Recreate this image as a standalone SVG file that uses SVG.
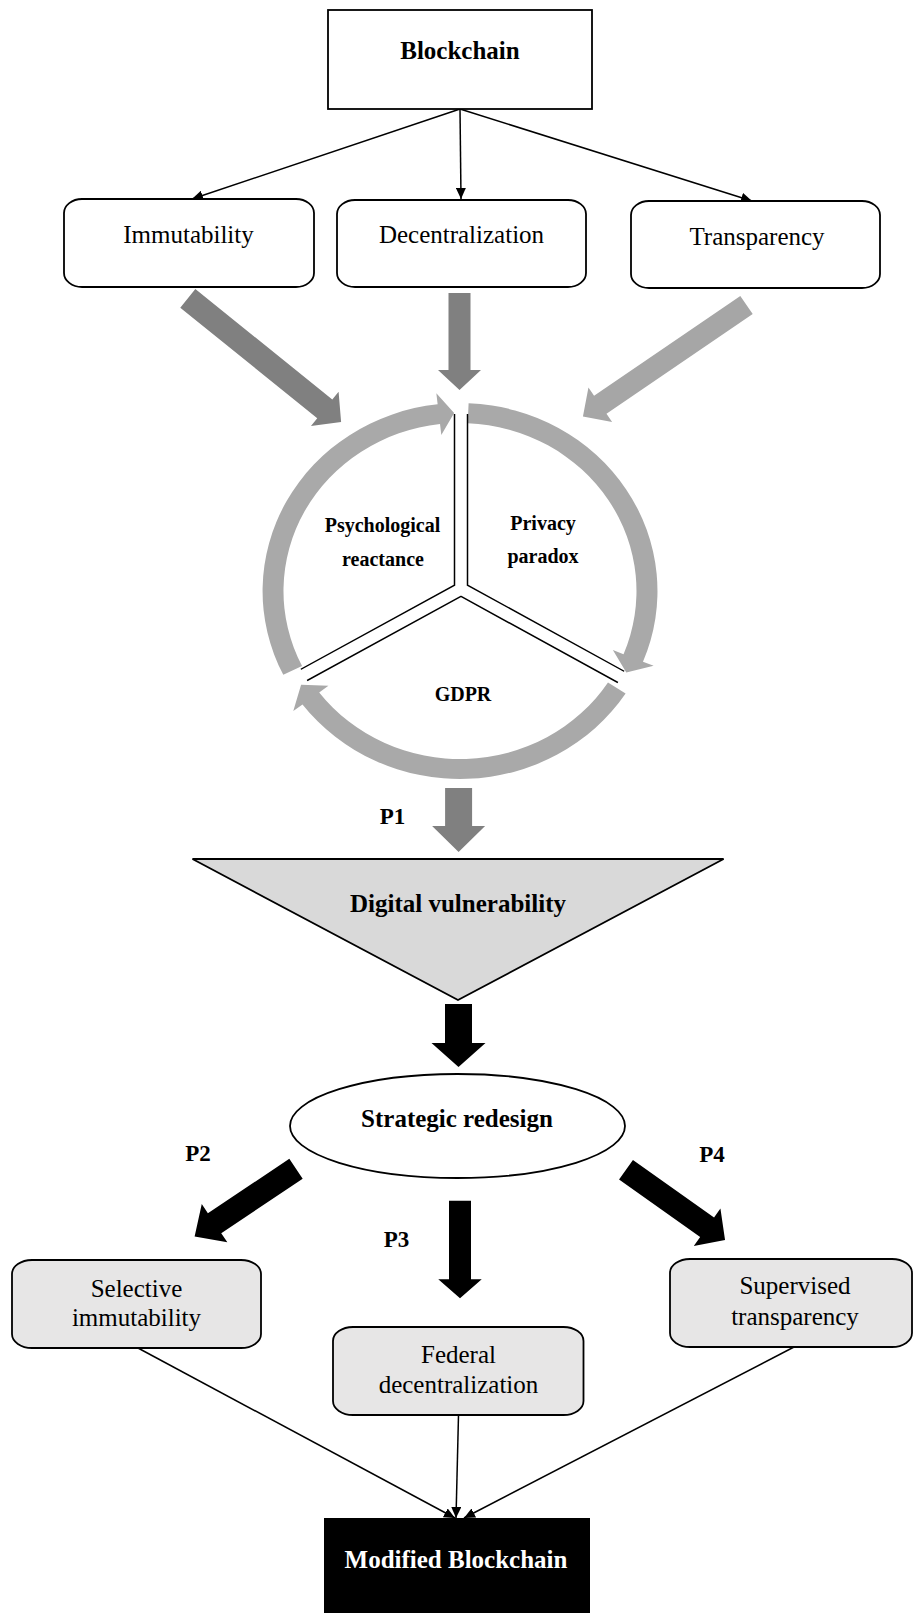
<svg xmlns="http://www.w3.org/2000/svg" width="914" height="1613" viewBox="0 0 914 1613">
<defs>
<style>
.t{font-family:"Liberation Serif","Times New Roman",serif;fill:#000;text-anchor:middle}
.n{font-size:25px}
.b{font-size:25px;font-weight:bold}
.c{font-size:20px;font-weight:bold}
.p{font-size:23px;font-weight:bold}
.box{fill:#fff;stroke:#000;stroke-width:1.8}
.gbox{fill:#e7e6e6;stroke:#000;stroke-width:1.8}
.ln{fill:none;stroke:#000;stroke-width:1.5}
.ring{fill:#a9a9a9}
.dk{fill:#808080}
.lt{fill:#a6a6a6}
.bk{fill:#000}
</style>
<marker id="ah" viewBox="0 0 11 10" refX="11" refY="5" markerWidth="11" markerHeight="10" markerUnits="userSpaceOnUse" orient="auto">
<path d="M0,0 L11,5 L0,10 z" fill="#000"/>
</marker>
</defs>
<rect width="914" height="1613" fill="#fff"/>

<g id="connectors">
<line class="ln" x1="460" y1="109" x2="192" y2="199" marker-end="url(#ah)"/>
<line class="ln" x1="460" y1="109" x2="461" y2="199" marker-end="url(#ah)"/>
<line class="ln" x1="460" y1="109" x2="752" y2="201" marker-end="url(#ah)"/>
<line class="ln" x1="138" y1="1348" x2="455" y2="1518" marker-end="url(#ah)"/>
<line class="ln" x1="458.5" y1="1415" x2="456" y2="1518" marker-end="url(#ah)"/>
<line class="ln" x1="794" y1="1347" x2="464" y2="1518" marker-end="url(#ah)"/>
<polygon class="dk" transform="translate(187.8,298.3) rotate(38.9)" points="0,-12 176,-12 176,-22 197,0 176,22 176,12 0,12"/>
<polygon class="dk" transform="translate(459.5,293) rotate(90)" points="0,-11 77,-11 77,-21.5 97,0 77,21.5 77,11 0,11"/>
<polygon class="lt" transform="translate(746.5,305) rotate(145.7)" points="0,-11 177,-11 177,-21 198,0 177,21 177,11 0,11"/>
<polygon class="dk" transform="translate(458.6,788) rotate(90)" points="0,-13.5 38,-13.5 38,-26.5 64,0 38,26.5 38,13.5 0,13.5"/>
<polygon class="bk" transform="translate(458.5,1004) rotate(90)" points="0,-13.5 39,-13.5 39,-27 63,0 39,27 39,13.5 0,13.5"/>
<polygon class="bk" transform="translate(296,1168.7) rotate(146.2)" points="0,-12 98,-12 98,-23 122,0 98,23 98,12 0,12"/>
<polygon class="bk" transform="translate(460,1200.7) rotate(90)" points="0,-11 78.6,-11 78.6,-21.75 97.6,0 78.6,21.75 78.6,11 0,11"/>
<polygon class="bk" transform="translate(626,1169.7) rotate(35.4)" points="0,-12 99.5,-12 99.5,-23 121.5,0 99.5,23 99.5,12 0,12"/>
</g>

<g id="node-blockchain">
<rect class="box" x="328" y="10" width="264" height="99"/>
<text class="t b" x="460" y="59">Blockchain</text>
</g>
<g id="node-immutability">
<rect class="box" x="64" y="199" width="250" height="88" rx="18" ry="14"/>
<text class="t n" x="188.5" y="243">Immutability</text>
</g>
<g id="node-decentralization">
<rect class="box" x="337" y="200" width="249" height="87" rx="18" ry="14"/>
<text class="t n" x="461.5" y="243">Decentralization</text>
</g>
<g id="node-transparency">
<rect class="box" x="631" y="201" width="249" height="87" rx="18" ry="14"/>
<text class="t n" x="757" y="245">Transparency</text>
</g>

<g id="node-cycle">
<g transform="translate(460,591) scale(1,0.952)">
<path class="ring" d="M -176.7 88.1 A 197.5 197.5 0 0 1 -22.36 -196.2 L -23.66 -207.7 L -5.87 -186.9 L -18.68 -163.9 L -19.98 -175.4 A 176.5 176.5 0 0 0 -157.95 78.76 Z"/>
<path class="ring" d="M 8.61 -197.3 A 197.5 197.5 0 0 1 182.98 74.30 L 193.64 78.63 L 166.3 85.48 L 152.87 62.07 L 163.53 66.40 A 176.5 176.5 0 0 0 7.70 -176.3 Z"/>
<path class="ring" d="M 165.6 107.6 A 197.5 197.5 0 0 1 -157.5 119.1 L -166.7 126.1 L -158.9 98.5 L -131.6 99.5 L -140.8 106.5 A 176.5 176.5 0 0 0 148.0 96.1 Z"/>
</g>
<g fill="none">
<path d="M461,414 L461,589 M304,675 L461,589 L621,677" stroke="#000" stroke-width="14.5"/>
<path d="M461,410 L461,589 M300,677 L461,589 L625,679" stroke="#fff" stroke-width="11.5"/>
</g>
<text class="t c" x="382.5" y="532">Psychological</text>
<text class="t c" x="383" y="566">reactance</text>
<text class="t c" x="543" y="530">Privacy</text>
<text class="t c" x="543" y="563">paradox</text>
<text class="t c" x="463" y="701">GDPR</text>
</g>

<g id="label-p1"><text class="t p" x="392.5" y="824">P1</text></g>

<g id="node-digital-vulnerability">
<polygon points="192.5,859 723.6,859 458,1000" fill="#d9d9d9" stroke="#000" stroke-width="1.8"/>
<text class="t b" x="458" y="912">Digital vulnerability</text>
</g>

<g id="node-strategic-redesign">
<ellipse cx="457.5" cy="1126" rx="167.5" ry="52" fill="#fff" stroke="#000" stroke-width="1.8"/>
<text class="t b" x="457" y="1127">Strategic redesign</text>
</g>

<g id="label-p2"><text class="t p" x="198" y="1161">P2</text></g>
<g id="label-p3"><text class="t p" x="396.5" y="1247">P3</text></g>
<g id="label-p4"><text class="t p" x="712" y="1162">P4</text></g>

<g id="node-selective-immutability">
<rect class="gbox" x="12" y="1260" width="249" height="88" rx="20" ry="14"/>
<text class="t n" x="136.5" y="1297">Selective</text>
<text class="t n" x="136.5" y="1326">immutability</text>
</g>
<g id="node-federal-decentralization">
<rect class="gbox" x="333" y="1327" width="250.5" height="88" rx="20" ry="14"/>
<text class="t n" x="458.5" y="1363">Federal</text>
<text class="t n" x="458.5" y="1393">decentralization</text>
</g>
<g id="node-supervised-transparency">
<rect class="gbox" x="670" y="1259" width="242" height="88" rx="20" ry="14"/>
<text class="t n" x="795" y="1294">Supervised</text>
<text class="t n" x="795" y="1325">transparency</text>
</g>

<g id="node-modified-blockchain">
<rect x="324" y="1518" width="266" height="100" fill="#000"/>
<text class="t b" x="456" y="1568" fill="#fff" style="fill:#fff">Modified Blockchain</text>
</g>
</svg>
